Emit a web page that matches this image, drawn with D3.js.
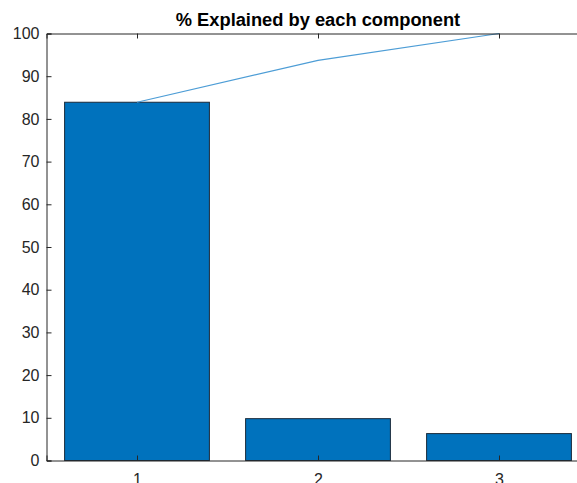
<!DOCTYPE html>
<html>
<head>
<meta charset="utf-8">
<script src="https://cdn.jsdelivr.net/npm/d3@7"></script>
<style>
  html, body { margin: 0; padding: 0; background: #fff; }
  svg { display: block; }
  text { font-family: "Liberation Sans", Arial, Helvetica, sans-serif; }
</style>
</head>
<body>
<div id="chart"></div>
<script>
// Share of variance explained by each principal component (%)
const components = [1, 2, 3];
const explained = [83.9, 9.8, 6.3];
const yTicks = [0, 10, 20, 30, 40, 50, 60, 70, 80, 90, 100];
const chartTitle = "% Explained by each component";

// Running total for the Pareto line
const cumulative = [];
explained.reduce((acc, v) => { acc += v; cumulative.push(acc); return acc; }, 0);

const W = 577, H = 483;
const plotLeft = 46.5, plotRight = 589.5, plotTop = 33.5, plotBottom = 460.5;

const svg = d3.select("#chart").append("svg")
  .attr("width", W).attr("height", H);

const x = d3.scaleLinear().domain([0.5, 3.5]).range([plotLeft, plotRight]);
const y = d3.scaleLinear().domain([0, 100]).range([plotBottom, plotTop]);

const axisColor = "#262626";
const barWidth = 0.8;

// Bars
svg.append("g").selectAll("rect")
  .data(components)
  .join("rect")
  .attr("x", (d) => x(d - barWidth / 2))
  .attr("width", (d) => x(d + barWidth / 2) - x(d - barWidth / 2))
  .attr("y", (d, i) => y(explained[i]))
  .attr("height", (d, i) => y(0) - y(explained[i]))
  .attr("fill", "#0072BD")
  .attr("stroke", "#1a2a3a")
  .attr("stroke-width", 1);

// Cumulative line
const line = d3.line()
  .x((d, i) => x(components[i]))
  .y((d) => y(d));
svg.append("path")
  .datum(cumulative)
  .attr("d", line)
  .attr("fill", "none")
  .attr("stroke", "#4d9dd6")
  .attr("stroke-width", 1.2);

// Left axis, ticks inward
const yAxis = svg.append("g")
  .attr("transform", `translate(${plotLeft},0)`)
  .call(d3.axisLeft(y).tickValues(yTicks).tickSize(-5).tickPadding(7).tickFormat(d3.format("d")));
yAxis.select(".domain").attr("stroke", axisColor).attr("stroke-width", 1);
yAxis.selectAll(".tick line").attr("stroke", axisColor).attr("stroke-width", 1);
yAxis.selectAll(".tick text")
  .attr("fill", axisColor)
  .style("font-size", "16px")
  .style("font-family", "'Liberation Sans', Arial, sans-serif");

// Bottom axis, ticks inward
const xAxis = svg.append("g")
  .attr("transform", `translate(0,${plotBottom})`)
  .call(d3.axisBottom(x).tickValues(components).tickSize(-5).tickPadding(13).tickFormat(d3.format("d")));
xAxis.select(".domain").attr("stroke", axisColor).attr("stroke-width", 1);
xAxis.selectAll(".tick line").attr("stroke", axisColor).attr("stroke-width", 1);
xAxis.selectAll(".tick text")
  .attr("fill", axisColor)
  .style("font-size", "16px")
  .style("font-family", "'Liberation Sans', Arial, sans-serif");

// Top box edge with mirrored ticks
const topAxis = svg.append("g")
  .attr("transform", `translate(0,${plotTop})`)
  .call(d3.axisTop(x).tickValues(components).tickSize(-5).tickFormat(""));
topAxis.select(".domain").attr("stroke", axisColor).attr("stroke-width", 1);
topAxis.selectAll(".tick line").attr("stroke", axisColor).attr("stroke-width", 1);

// Title
svg.append("text")
  .attr("x", (plotLeft + plotRight) / 2)
  .attr("y", 26)
  .attr("text-anchor", "middle")
  .attr("fill", "#000")
  .style("font-size", "18.3px")
  .style("font-weight", "bold")
  .text(chartTitle);
</script>
</body>
</html>
